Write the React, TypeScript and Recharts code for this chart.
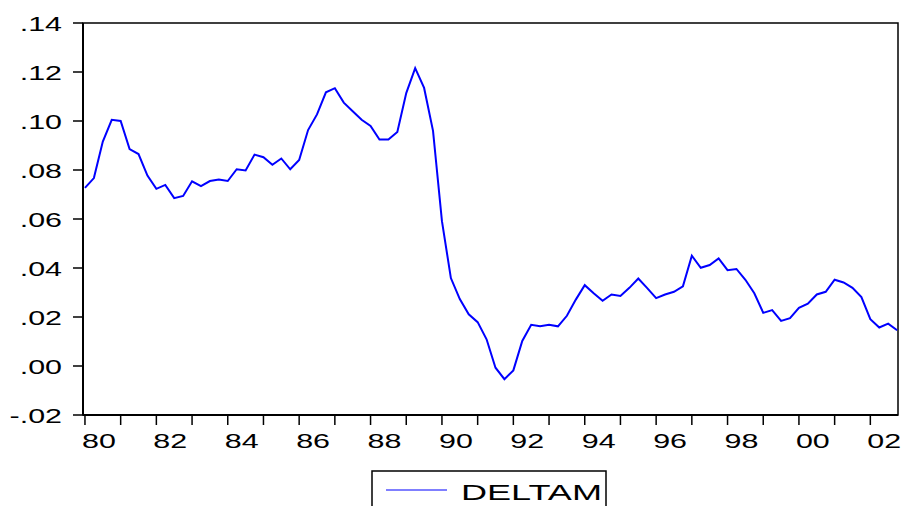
import React from "react"
import { Legend, Line, LineChart, ReferenceArea, XAxis, YAxis } from "recharts"

// DELTAM, quarterly, 1980Q1 .. 2002Q4
const deltam = [
    0.0727, 0.0767, 0.0916, 0.1005, 0.1, 0.0885, 0.0865, 0.0777,
    0.0723, 0.0739, 0.0685, 0.0694, 0.0754, 0.0734, 0.0755, 0.0761,
    0.0755, 0.0803, 0.0798, 0.0863, 0.0852, 0.0821, 0.0847, 0.0803,
    0.0841, 0.0963, 0.1027, 0.1117, 0.1134, 0.1075, 0.104, 0.1005,
    0.098, 0.0924, 0.0924, 0.0955, 0.1114, 0.1216, 0.1135, 0.096,
    0.0591, 0.0359, 0.0273, 0.0211, 0.0179, 0.0109, -0.0007, -0.0054,
    -0.0018, 0.0102, 0.0168, 0.0162, 0.0168, 0.0162, 0.0205, 0.0271,
    0.033, 0.0297, 0.0266, 0.0292, 0.0286, 0.0319, 0.0357, 0.0318,
    0.0277, 0.0292, 0.0303, 0.0325, 0.045, 0.0401, 0.0412, 0.0439,
    0.0391, 0.0396, 0.0352, 0.0297, 0.0217, 0.0228, 0.0184, 0.0195,
    0.0237, 0.0254, 0.0292, 0.0303, 0.0352, 0.0341, 0.0319, 0.0281,
    0.0191, 0.0157, 0.0173, 0.0146,
]

const startYear = 1980
const yearTicks = [0, 4, 8, 12, 16, 20, 24, 28, 32, 36, 40, 44, 48, 52, 56, 60, 64, 68, 72, 76, 80, 84, 88]
const valueTicks = [-0.02, 0, 0.02, 0.04, 0.06, 0.08, 0.1, 0.12, 0.14]

const data = deltam.map((v, i) => ({ i, deltam: v }))

const FONT = "'Liberation Sans', Arial, sans-serif"
const STRETCH = 1.45

const fmtValue = (v: number) => v.toFixed(2).replace("0.", ".")
const fmtYear = (i: number) => {
    const year = startYear + i / 4
    if (year % 2 !== 0) return ""
    return String(year % 100).padStart(2, "0")
}

// EViews puts the year label just right of its tick
function XTick({ x, y, payload }: any) {
    return (
        <text
            transform={`translate(${x - 3},${y}) scale(${STRETCH},1)`}
            textAnchor="start"
            dy="0.71em"
            fontFamily={FONT}
            fontSize={21}
            fill="#000"
        >
            {fmtYear(payload.value)}
        </text>
    )
}

function YTick({ x, y, payload }: any) {
    return (
        <text
            transform={`translate(${x},${y}) scale(${STRETCH},1)`}
            textAnchor="end"
            dy="0.36em"
            fontFamily={FONT}
            fontSize={21}
            fill="#000"
        >
            {fmtValue(payload.value)}
        </text>
    )
}

function LegendBox() {
    return (
        <svg width={903} height={36} style={{ display: "block" }}>
            <rect x={372} y={1} width={234} height={40} fill="#fff" stroke="#000" strokeWidth={1.5} />
            <line x1={386} y1={20} x2={447} y2={20} stroke="#0000ff" strokeWidth={1.2} />
            <text
                x={461}
                y={29.5}
                fontFamily={FONT}
                fontSize={21.5}
                textLength={141}
                lengthAdjust="spacingAndGlyphs"
                fill="#000"
            >
                DELTAM
            </text>
        </svg>
    )
}

export default function App() {
    return (
        <div style={{ position: "absolute", left: 0, top: 0, width: 903, height: 506, background: "#fff" }}>
            <LineChart width={903} height={506} data={data} margin={{ top: 23, right: 5, bottom: 0, left: 0 }}>
                <XAxis
                    type="number"
                    dataKey="i"
                    domain={[-0.22, 91.1]}
                    allowDataOverflow
                    ticks={yearTicks}
                    interval={0}
                    height={91}
                    tickSize={10}
                    tickMargin={8}
                    axisLine={{ stroke: "#000", strokeWidth: 2 }}
                    tickLine={{ stroke: "#000", strokeWidth: 1.5 }}
                    tick={<XTick />}
                />
                <YAxis
                    type="number"
                    domain={[-0.02, 0.14]}
                    ticks={valueTicks}
                    interval={0}
                    width={83}
                    tickSize={10}
                    tickMargin={11}
                    axisLine={{ stroke: "#000", strokeWidth: 2 }}
                    tickLine={{ stroke: "#000", strokeWidth: 1.5 }}
                    tick={<YTick />}
                />
                <ReferenceArea
                    x1={-0.22}
                    x2={91.1}
                    y1={-0.02}
                    y2={0.14}
                    fill="none"
                    fillOpacity={0}
                    stroke="#000"
                    strokeWidth={1.5}
                />
                <Line
                    type="linear"
                    dataKey="deltam"
                    name="DELTAM"
                    stroke="#0000ff"
                    strokeWidth={2}
                    dot={false}
                    isAnimationActive={false}
                />
                <Legend
                    verticalAlign="middle"
                    align="center"
                    layout="horizontal"
                    wrapperStyle={{ top: 470, left: 0, width: 903, height: 36 }}
                    content={() => <LegendBox />}
                />
            </LineChart>
        </div>
    )
}
